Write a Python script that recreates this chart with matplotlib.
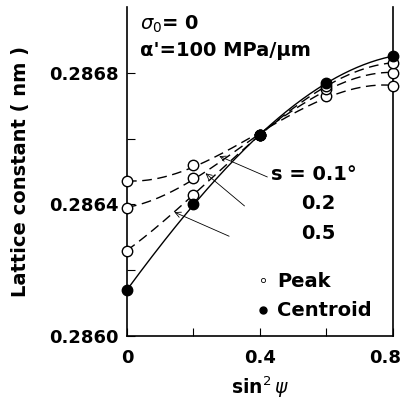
import numpy as np
import matplotlib.pyplot as plt
import matplotlib.transforms as mtransforms

# sin^2 psi positions
x = [0.0, 0.2, 0.4, 0.6, 0.8]

# lattice constant (nm)
centroid = [0.28614, 0.28640, 0.28661, 0.28677, 0.28685]
peak_01 = [0.28647, 0.28652, 0.28661, 0.28673, 0.28676]
peak_02 = [0.28639, 0.28648, 0.28661, 0.28675, 0.28680]
peak_05 = [0.28626, 0.28643, 0.28661, 0.28676, 0.28683]

fig = plt.figure(figsize=(4.03, 4.04), dpi=100)
ax = fig.add_axes([0.315, 0.168, 0.66, 0.815])

xs = np.linspace(0, 0.8, 200)
for ys, ls in [(peak_01, (0, (7, 4))), (peak_02, (0, (7, 4))), (peak_05, (0, (7, 4))), (centroid, '-')]:
    c = np.polyfit(x, ys, 3)
    ax.plot(xs, np.polyval(c, xs), color='k', lw=1.0, ls=ls)

for ys in [peak_01, peak_02, peak_05]:
    ax.plot(x, ys, 'o', ms=7.5, mfc='white', mec='k', mew=1.0, clip_on=False, zorder=3)
ax.plot(x, centroid, 'o', ms=7.5, mfc='k', mec='k', clip_on=False, zorder=4)

ax.set_xlim(0, 0.8)
ax.set_ylim(0.2860, 0.2870)
ax.set_xticks([0, 0.2, 0.4, 0.6, 0.8])
ax.set_xticklabels(['0', '', '0.4', '', '0.8'])
ax.set_yticks([0.2860, 0.2862, 0.2864, 0.2866, 0.2868])
ax.set_yticklabels(['0.2860', '', '0.2864', '', '0.2868'])
ax.tick_params(direction='in', length=6, labelsize=13, pad=6)
ax.tick_params(axis='x', pad=9)
for lab in ax.get_xticklabels() + ax.get_yticklabels():
    lab.set_fontweight('bold')
last = ax.get_xticklabels()[-1]
last.set_transform(last.get_transform() + mtransforms.ScaledTranslation(-8 / 100, 0, fig.dpi_scale_trans))
for sp in ax.spines.values():
    sp.set_linewidth(1.2)
ax.spines['top'].set_visible(False)

ax.set_ylabel('Lattice constant ( nm )', fontsize=14, fontweight='bold', labelpad=14)
ax.set_xlabel(r'sin$^2\,\psi$', fontsize=13.5, fontweight='bold', labelpad=6)

ax.text(0.05, 0.93, r'$\sigma_0$= 0', transform=ax.transAxes, fontsize=14, fontweight='bold')
ax.text(0.05, 0.85, "α'=100 MPa/μm", transform=ax.transAxes, fontsize=14, fontweight='bold')

ax.text(0.54, 0.475, 's = 0.1°', transform=ax.transAxes, fontsize=14, fontweight='bold')
ax.text(0.655, 0.385, '0.2', transform=ax.transAxes, fontsize=14, fontweight='bold')
ax.text(0.655, 0.295, '0.5', transform=ax.transAxes, fontsize=14, fontweight='bold')
ax.plot([0.51], [0.17], 'o', ms=3, mfc='white', mec='k', mew=0.6, transform=ax.transAxes)
ax.text(0.565, 0.15, 'Peak', transform=ax.transAxes, fontsize=14, fontweight='bold')
ax.plot([0.51], [0.08], 'o', ms=5, color='k', transform=ax.transAxes)
ax.text(0.565, 0.06, 'Centroid', transform=ax.transAxes, fontsize=14, fontweight='bold')

# leader lines to the curves
arrow = dict(arrowstyle='->', lw=0.6, color='k')
ax.annotate('', xy=(0.27, 0.28655), xytext=(0.43, 0.28648), arrowprops=arrow)
ax.annotate('', xy=(0.23, 0.28650), xytext=(0.36, 0.28639), arrowprops=arrow)
ax.annotate('', xy=(0.135, 0.28638), xytext=(0.315, 0.28630), arrowprops=arrow)

fig.savefig('out.png', dpi=100)
